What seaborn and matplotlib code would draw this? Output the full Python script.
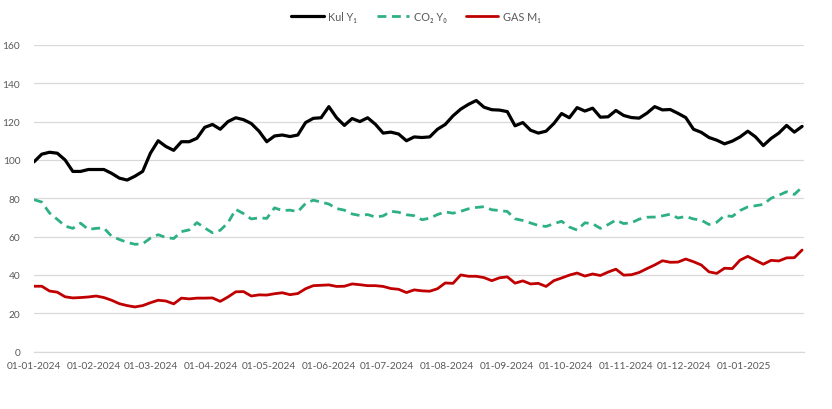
import numpy as np
import pandas as pd
import matplotlib
matplotlib.use("Agg")
import matplotlib.pyplot as plt
import seaborn as sns

# ── Data (one value every 4 days) ────────────────────────────────────────────
start_date = "2024-01-01"
step = "4D"

kul_y1 = [
    99, 103, 104, 103.5, 100, 94, 94, 95, 95, 95,
    93, 90.5, 89.5, 91.5, 94, 103.5, 110, 107, 105, 109.5,
    109.5, 111.3, 117, 118.5, 116, 120, 122, 121, 119, 115,
    109.5, 112.5, 113, 112.2, 113, 119.5, 121.7, 122, 127.8, 122,
    118, 121.6, 120, 122, 118.6, 114, 114.5, 113.5, 110, 112,
    111.7, 112, 116, 118.5, 123, 126.5, 129, 131, 127.5, 126.2,
    126, 125.2, 117.8, 119.5, 115.5, 114, 115, 119, 124.2, 122,
    127.3, 125.5, 127, 122.3, 122.5, 125.8, 123.2, 122.1, 121.8, 124.4,
    127.8, 126.1, 126.3, 124.3, 122.1, 116, 114.4, 111.7, 110.3, 108.4,
    109.8, 112, 115, 112, 107.5, 111.2, 114, 118, 114.5, 117.5,
]

co2_y0 = [
    79.3, 78, 72.3, 69, 65.5, 64.3, 67, 63.7, 64.3, 64.5,
    60.2, 58.5, 57, 56, 56.2, 59.2, 61, 59.5, 59, 62.6,
    63.5, 67.3, 64.5, 62, 63.3, 67.2, 74.2, 72, 69.2, 69.8,
    69.5, 75, 73.6, 73.8, 73, 77.3, 79, 78, 77, 74.6,
    73.8, 71.8, 71, 71.5, 70.2, 70.8, 73.2, 72.7, 71.4, 70.9,
    68.8, 69.6, 71.5, 72.9, 72.2, 73.2, 74.5, 75.2, 75.6, 74,
    73.6, 73.1, 69.3, 68.4, 67.1, 65.8, 65.3, 66.7, 68, 65,
    63.4, 67.2, 66.7, 64.3, 66.3, 68.6, 66.8, 67.2, 69.1, 70.1,
    70.2, 70.8, 71.7, 69.7, 70.5, 69.2, 68.6, 66.3, 67.5, 71,
    70.5, 73.6, 75.5, 76.1, 76.8, 80, 81.6, 83.4, 82, 85.8,
]

gas_m1 = [
    34.1, 34.1, 31.6, 31, 28.6, 28, 28.2, 28.5, 29, 28.2,
    26.8, 25, 24, 23.3, 24, 25.5, 26.8, 26.4, 24.9, 27.9,
    27.5, 27.9, 27.9, 28, 26.2, 28.5, 31.2, 31.3, 29, 29.6,
    29.5, 30.2, 30.7, 29.7, 30.3, 32.8, 34.4, 34.6, 34.8, 34,
    34.1, 35.3, 34.9, 34.4, 34.4, 34, 32.9, 32.5, 30.8, 32.2,
    31.7, 31.5, 32.8, 35.8, 35.6, 40, 39.3, 39.3, 38.6, 37,
    38.5, 39, 35.7, 36.9, 35.3, 35.6, 34, 37, 38.4, 39.9,
    41, 39.4, 40.5, 39.7, 41.5, 43, 39.9, 40.1, 41.3, 43.3,
    45.2, 47.4, 46.6, 46.7, 48.3, 46.9, 45.2, 41.6, 40.8, 43.5,
    43.3, 47.7, 49.7, 47.6, 45.6, 47.6, 47.3, 48.9, 49, 53,
]

labels = ["Kul Y\u2081", "CO\u2082 Y\u2080", "GAS M\u2081"]
colors = ["#000000", "#2EB087", "#C00000"]
y_ticks = [0, 20, 40, 60, 80, 100, 120, 140, 160]

dates = pd.date_range(start_date, periods=len(kul_y1), freq=step)

# ── Style ─────────────────────────────────────────────────────────────────────
sns.set_theme(style="white")
plt.rcParams["font.family"] = ["Lato", "DejaVu Sans"]

GRID = "#D9D9D9"
TEXT = "#595959"

fig = plt.figure(figsize=(8.32, 4.10), dpi=100)
ax = fig.add_axes([0.0409, 0.140, 0.9255, 0.748])

series = [kul_y1, co2_y0, gas_m1]
widths = [2.3, 2.0, 2.0]
for vals, lab, col, lw in zip(series, labels, colors, widths):
    sns.lineplot(x=dates, y=vals, color=col, linewidth=lw, label=lab, ax=ax)
ax.lines[1].set_dashes([3.2, 2.0])

ax.set_xlim(pd.Timestamp("2024-01-01"), pd.Timestamp("2025-02-01"))
ax.set_ylim(0, 160)
ax.set_yticks(y_ticks)
ax.set_yticklabels([str(v) for v in y_ticks], fontsize=7.3, color=TEXT)
ax.yaxis.grid(True, color=GRID, linewidth=0.9)
ax.set_axisbelow(True)

month_ticks = pd.date_range("2024-01-01", "2025-02-01", freq="MS")
ax.set_xticks(month_ticks)
ax.set_xticklabels([d.strftime("%d-%m-%Y") if i < len(month_ticks) - 1 else ""
                    for i, d in enumerate(month_ticks)], fontsize=7.3, color=TEXT)
ax.tick_params(axis="x", length=4, width=0.9, color=GRID, pad=3, direction="out")
ax.tick_params(axis="y", length=0, pad=10)
ax.set_xlabel("")
ax.set_ylabel("")

for s in ["top", "right", "left"]:
    ax.spines[s].set_visible(False)
ax.spines["bottom"].set_color(GRID)
ax.spines["bottom"].set_linewidth(0.9)

handles, labs = ax.get_legend_handles_labels()
ax.legend_.remove()
fig.legend(handles, labs, loc="center", bbox_to_anchor=(0.5, 0.958), ncol=3,
           frameon=False, fontsize=7.8, handlelength=3.0, columnspacing=1.8,
           handletextpad=0.4, labelcolor=TEXT)

fig.savefig("out.png", dpi=100)
